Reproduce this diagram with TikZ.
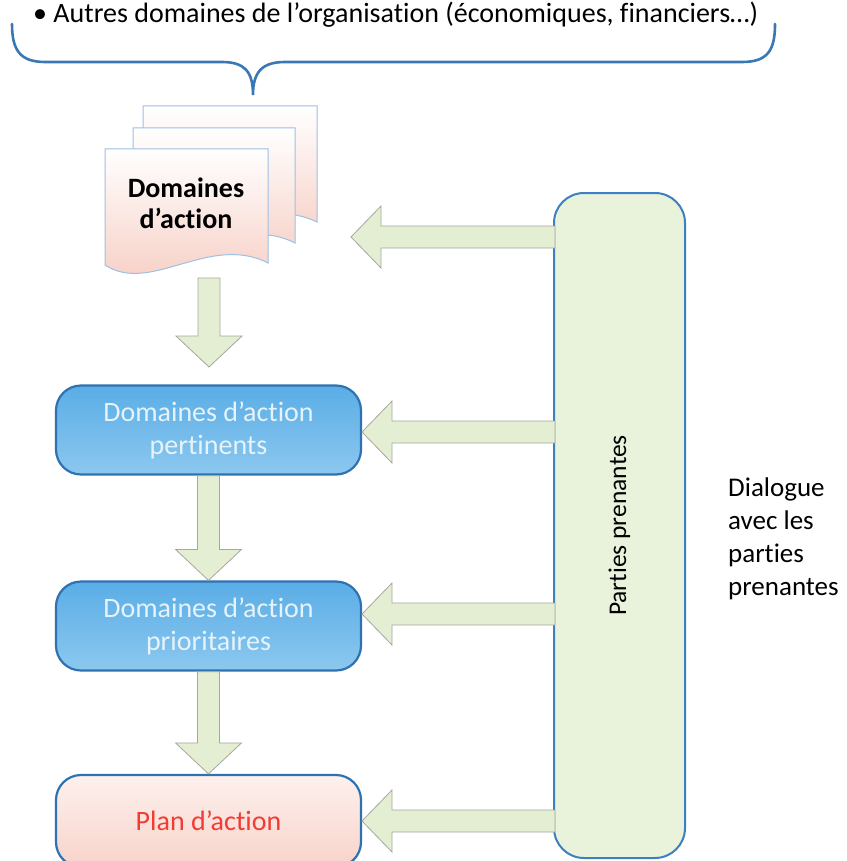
\documentclass[tikz,border=0pt]{standalone}
\usepackage{fontspec}
\setmainfont{Carlito}[Ligatures=NoCommon]
\usetikzlibrary{calc}
\definecolor{bracec}{HTML}{3A78B5}
\definecolor{pagebd}{HTML}{9DC0E4}
\definecolor{pagepink}{HTML}{F6CBC0}
\definecolor{boxtop}{HTML}{5AADE6}
\definecolor{boxbot}{HTML}{8CC8EF}
\definecolor{boxbd}{HTML}{2F72B2}
\definecolor{boxtxt}{HTML}{E6F3FB}
\definecolor{plantop}{HTML}{FDF1EE}
\definecolor{planbot}{HTML}{F8D3CA}
\definecolor{plantxt}{HTML}{F03C32}
\definecolor{ppfill}{HTML}{E9F3DC}
\definecolor{ppbd}{HTML}{3B80C2}
\definecolor{arrfill}{HTML}{E4EED2}
\definecolor{arrbd}{HTML}{A4A8A0}
\tikzset{
  pagestyle/.style={draw=pagebd, line width=1pt, top color=white, bottom color=pagepink},
  bluebox/.style={draw=boxbd, line width=2.2pt, rounded corners=25pt, top color=boxtop, bottom color=boxbot,
    minimum width=305pt, minimum height=89pt, align=center, text=boxtxt,
    font=\fontsize{28}{33}\selectfont, inner sep=0pt},
  planbox/.style={draw=boxbd, line width=2.2pt, rounded corners=25pt, top color=plantop, bottom color=planbot,
    minimum width=305pt, minimum height=92pt, align=center, text=plantxt,
    font=\fontsize{28}{33}\selectfont, inner sep=0pt},
  ppbox/.style={draw=ppbd, line width=2pt, rounded corners=30pt, fill=ppfill,
    minimum width=665pt, minimum height=131pt, rotate=90, inner sep=0pt,
    font=\fontsize{25.5}{30}\selectfont},
  barrow/.style={draw=arrbd, line width=0.8pt, fill=arrfill, line join=miter},
}
\newcommand\docpage[4]{% x1 x2 ytop ybot
  \path[pagestyle] (#1,#3) -- (#2,#3) -- (#2,#4-2)
    .. controls ({#1+0.64*(#2-#1)},#4-32) and ({#1+0.28*(#2-#1)},#4+30) .. (#1,#4) -- cycle;}
\newcommand\harrowblock[2]{% tail, tip (leftward)
  \draw[barrow] let \p1=(#1), \p2=(#2) in
    (\x1,\y2+11pt) -- (\x2+30pt,\y2+11pt) -- (\x2+30pt,\y2+31pt) -- (\x2,\y2)
    -- (\x2+30pt,\y2-31pt) -- (\x2+30pt,\y2-11pt) -- (\x1,\y2-11pt) -- cycle;}
\newcommand\varrowblock[2]{% tail (top), tip (bottom)
  \draw[barrow] let \p1=(#1), \p2=(#2) in
    (\x2-11pt,\y1) -- (\x2+11pt,\y1) -- (\x2+11pt,\y2+31pt) -- (\x2+33pt,\y2+31pt) -- (\x2,\y2)
    -- (\x2-33pt,\y2+31pt) -- (\x2-11pt,\y2+31pt) -- cycle;}
\begin{document}
\begin{tikzpicture}[x=1pt,y=-1pt]
\useasboundingbox (0,0) rectangle (846,861);
\clip (0,0) rectangle (846,861);
\fill[white] (0,0) rectangle (846,861);

% top text and brace
\node[anchor=base west, inner sep=0pt, font=\fontsize{28}{32}\selectfont] (top) at (33,23)
  {• Autres domaines de l’organisation (économiques, financiers…)};
\coordinate (bracetip) at (253,95);
\draw[bracec, line width=2.6pt, line cap=round]
  (12,24) .. controls (12,50) and (20,62) .. (45,62) -- (222,62)
  .. controls (245,62) and (253,72) .. (bracetip)
  .. controls (253,72) and (262,62) .. (285,62) -- (742,62)
  .. controls (768,62) and (775,50) .. (775,24);

% document stack
\docpage{143}{317}{106}{224}
\docpage{133}{295}{128}{245}
\docpage{105}{268}{149}{265}
\node[font=\bfseries\fontsize{28}{31}\selectfont, align=center, inner sep=0pt] (docs) at (186,203)
  {Domaines\\d’action};
\coordinate (docbottom) at (209,278);
\coordinate (a0tip) at (209,367);

% boxes
\node[bluebox] (b1) at (208.5,430) {Domaines d’action\\pertinents};
\node[bluebox] (b2) at (208.5,626) {Domaines d’action\\prioritaires};
\node[planbox] (b3) at (208.5,821) {Plan d’action};
\node[ppbox] (pp) at (619.5,525.5) {Parties prenantes};

\node[anchor=north west, align=left, inner sep=0pt, font=\fontsize{27}{33}\selectfont] (dial) at (728,478)
  {Dialogue\\avec les\\parties\\prenantes};

% vertical arrows
\varrowblock{docbottom}{a0tip}
\varrowblock{b1.south}{b2.north}
\varrowblock{b2.south}{b3.north}

% horizontal arrows
\coordinate (a1tip) at (351,237);
\coordinate (a1tail) at (555,237);
\harrowblock{a1tail}{a1tip}
\coordinate (a2tail) at (555,432);
\coordinate (a2tip) at (362,432);
\harrowblock{a2tail}{a2tip}
\coordinate (a3tail) at (555,614);
\coordinate (a3tip) at (362,614);
\harrowblock{a3tail}{a3tip}
\coordinate (a4tail) at (555,821);
\coordinate (a4tip) at (362,821);
\harrowblock{a4tail}{a4tip}
\end{tikzpicture}
\end{document}
